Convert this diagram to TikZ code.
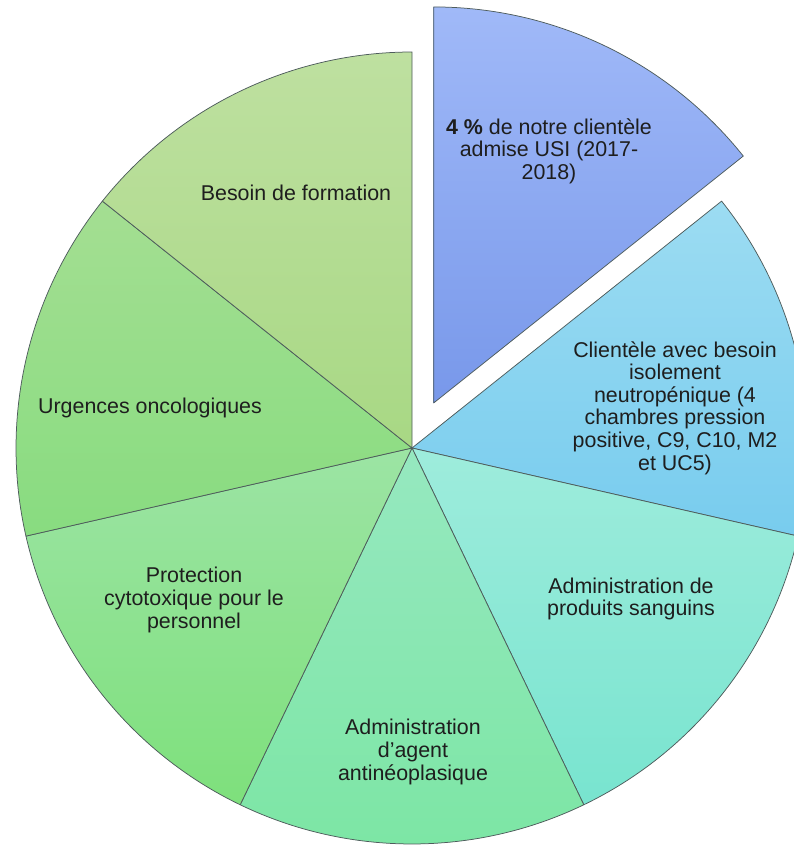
\documentclass[tikz,border=0pt]{standalone}
\usepackage{fontspec}
\setmainfont{Liberation Sans}
\definecolor{edge}{RGB}{78,92,92}
\definecolor{txt}{RGB}{30,30,30}
\definecolor{aT}{RGB}{160,185,248}\definecolor{aB}{RGB}{120,152,234}
\definecolor{bT}{RGB}{156,220,242}\definecolor{bB}{RGB}{120,204,238}
\definecolor{cT}{RGB}{158,236,220}\definecolor{cB}{RGB}{120,228,207}
\definecolor{dT}{RGB}{150,232,192}\definecolor{dB}{RGB}{124,230,164}
\definecolor{eT}{RGB}{156,228,164}\definecolor{eB}{RGB}{126,224,124}
\definecolor{fT}{RGB}{164,222,146}\definecolor{fB}{RGB}{136,220,128}
\definecolor{gT}{RGB}{190,224,160}\definecolor{gB}{RGB}{168,216,132}
\begin{document}
\begin{tikzpicture}[x=1pt,y=1pt,
  slice/.style={draw=edge, line width=0.75pt, line join=round},
  lbl/.style={align=center, text=txt, inner sep=0pt,
    font=\fontsize{21.4}{22.6}\selectfont}]
\useasboundingbox (0,0) rectangle (794,-845);
\clip (0,0) rectangle (794,-845);
\def\R{396}
\coordinate (c) at (412,-448);
\coordinate (ce) at ([shift={(64.286:50)}]c);
% slices
\path[slice, top color=bT, bottom color=bB] (c) -- ++(38.571:\R) arc[start angle=38.571, end angle=-12.857, radius=\R] -- cycle;
\path[slice, top color=cT, bottom color=cB] (c) -- ++(-12.857:\R) arc[start angle=-12.857, end angle=-64.286, radius=\R] -- cycle;
\path[slice, top color=dT, bottom color=dB] (c) -- ++(-64.286:\R) arc[start angle=-64.286, end angle=-115.714, radius=\R] -- cycle;
\path[slice, top color=eT, bottom color=eB] (c) -- ++(-115.714:\R) arc[start angle=-115.714, end angle=-167.143, radius=\R] -- cycle;
\path[slice, top color=fT, bottom color=fB] (c) -- ++(-167.143:\R) arc[start angle=-167.143, end angle=-218.571, radius=\R] -- cycle;
\path[slice, top color=gT, bottom color=gB] (c) -- ++(141.429:\R) arc[start angle=141.429, end angle=90, radius=\R] -- cycle;
\path[slice, top color=aT, bottom color=aB] (ce) -- ++(90:\R) arc[start angle=90, end angle=38.571, radius=\R] -- cycle;
% labels
\node[lbl] (t1) at (549,-151) {\textbf{4 \%} de notre clientèle\\admise USI (2017-\\2018)};
\node[lbl] (t2) at (675,-408) {Clientèle avec besoin\\isolement\\neutropénique (4\\chambres pression\\positive, C9, C10, M2\\et UC5)};
\node[lbl] (t3) at (631,-599) {Administration de\\produits sanguins};
\node[lbl] (t4) at (413,-752) {Administration\\d’agent\\antinéoplasique};
\node[lbl] (t5) at (194,-600) {Protection\\cytotoxique pour le\\personnel};
\node[lbl] (t6) at (150,-408) {Urgences oncologiques};
\node[lbl] (t7) at (296,-193) {Besoin de formation};
\end{tikzpicture}
\end{document}
